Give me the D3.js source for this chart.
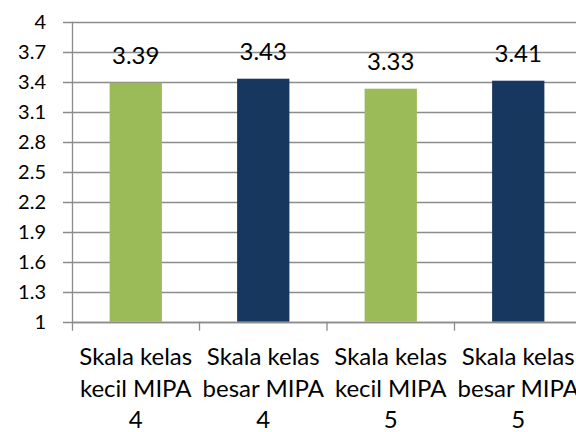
<!DOCTYPE html>
<html>
<head>
<meta charset="utf-8">
<script src="https://cdn.jsdelivr.net/npm/d3@7"></script>
<style>
  body { margin: 0; background: #ffffff; }
  svg { display: block; font-family: Lato, "Open Sans", sans-serif; }
</style>
</head>
<body>
<script>

// chart data
var categories = ["Skala kelas kecil MIPA 4", "Skala kelas besar MIPA 4",
                  "Skala kelas kecil MIPA 5", "Skala kelas besar MIPA 5"];
var labelLines = [["Skala kelas", "kecil MIPA", "4"],
                  ["Skala kelas", "besar MIPA", "4"],
                  ["Skala kelas", "kecil MIPA", "5"],
                  ["Skala kelas", "besar MIPA", "5"]];
var values = [3.39, 3.43, 3.33, 3.41];
var barColors = ["#9bbb59", "#17375e", "#9bbb59", "#17375e"];
var yTicks = [1, 1.3, 1.6, 1.9, 2.2, 2.5, 2.8, 3.1, 3.4, 3.7, 4];

var width = 576, height = 432;
var plotLeft = 72, plotRight = 582, plotTop = 21.7, plotBottom = 321.7;
var outerPad = 0.295;

var svg = d3.select("body")
            .append("svg")
            .attr("width", width)
            .attr("height", height);

var xScale = d3.scaleBand()
               .domain(categories)
               .range([plotLeft, plotRight])
               .paddingInner(0.59)
               .paddingOuter(outerPad);

var yScale = d3.scaleLinear()
               .domain([1, 4])
               .range([plotBottom, plotTop]);

// horizontal gridlines with the little ticks on the left
svg.append("g")
   .selectAll("line")
   .data(yTicks)
   .enter()
   .append("line")
   .attr("x1", plotLeft - 9)
   .attr("x2", width)
   .attr("y1", function(d) { return Math.round(yScale(d)) + 0.5; })
   .attr("y2", function(d) { return Math.round(yScale(d)) + 0.5; })
   .attr("stroke", "#8c8c8c")
   .attr("stroke-width", 1.3);

// y tick labels
svg.append("g")
   .selectAll("text")
   .data(yTicks)
   .enter()
   .append("text")
   .attr("x", 46)
   .attr("y", function(d) { return yScale(d) + 7; })
   .attr("text-anchor", "end")
   .attr("font-size", 20)
   .attr("fill", "#000")
   .text(function(d) { return d3.format("")(d); });

// bars
svg.selectAll("rect.bar")
   .data(values)
   .enter()
   .append("rect")
   .attr("class", "bar")
   .attr("x", function(d, i) { return xScale(categories[i]); })
   .attr("y", function(d) { return yScale(d); })
   .attr("width", xScale.bandwidth())
   .attr("height", function(d) { return yScale(1) - yScale(d); })
   .attr("fill", function(d, i) { return barColors[i]; });

// value labels
svg.selectAll("text.value")
   .data(values)
   .enter()
   .append("text")
   .attr("class", "value")
   .attr("x", function(d, i) { return xScale(categories[i]) + xScale.bandwidth() / 2; })
   .attr("y", function(d) { return yScale(d) - 19; })
   .attr("text-anchor", "middle")
   .attr("font-size", 24)
   .attr("fill", "#000")
   .text(function(d) { return d3.format(".2f")(d); });

// y axis line
svg.append("line")
   .attr("x1", plotLeft + 0.5).attr("x2", plotLeft + 0.5)
   .attr("y1", plotTop).attr("y2", plotBottom + 9)
   .attr("stroke", "#8c8c8c")
   .attr("stroke-width", 1.3);

// x axis line
svg.append("line")
   .attr("x1", plotLeft).attr("x2", width)
   .attr("y1", Math.round(plotBottom) + 0.5).attr("y2", Math.round(plotBottom) + 0.5)
   .attr("stroke", "#8c8c8c")
   .attr("stroke-width", 1.3);

// category boundary ticks
var step = xScale.step();
svg.append("g")
   .selectAll("line")
   .data(categories.slice(1))
   .enter()
   .append("line")
   .attr("x1", function(d) { return xScale(d) - step * outerPad; })
   .attr("x2", function(d) { return xScale(d) - step * outerPad; })
   .attr("y1", plotBottom)
   .attr("y2", plotBottom + 9)
   .attr("stroke", "#8c8c8c")
   .attr("stroke-width", 1.3);

// category labels, three lines each
var catLabel = svg.selectAll("text.cat")
                  .data(labelLines)
                  .enter()
                  .append("text")
                  .attr("class", "cat")
                  .attr("text-anchor", "middle")
                  .attr("font-size", 24)
                  .attr("fill", "#000");

catLabel.selectAll("tspan")
        .data(function(d, i) {
          return d.map(function(line) { return { line: line, cat: categories[i] }; });
        })
        .enter()
        .append("tspan")
        .attr("x", function(d) { return xScale(d.cat) + xScale.bandwidth() / 2; })
        .attr("y", function(d, j) { return 365 + j * 31.5; })
        .text(function(d) { return d.line; });

</script>
</body>
</html>
